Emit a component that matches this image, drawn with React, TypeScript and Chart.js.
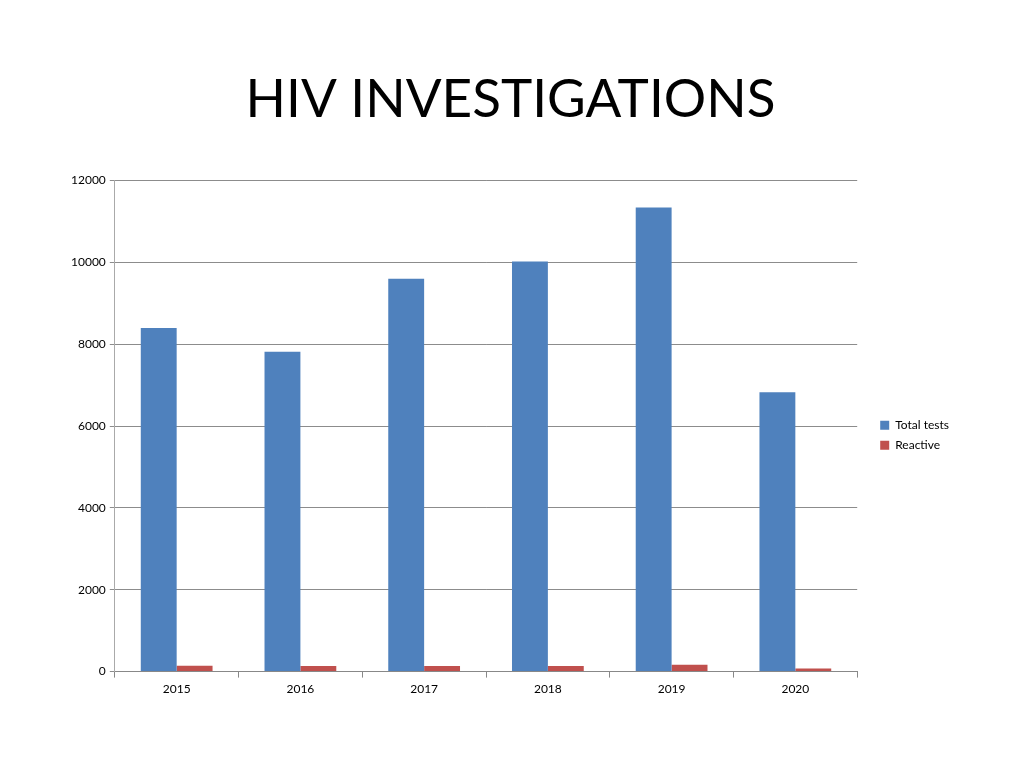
import React, { useEffect, useRef } from "react";
import { Chart, registerables, Plugin } from "chart.js";

Chart.register(...registerables);

const years = ["2015", "2016", "2017", "2018", "2019", "2020"];
const totalTests = [8400, 7820, 9600, 10020, 11340, 6830];
const reactive = [140, 135, 135, 135, 165, 75];
const yTicks = [0, 2000, 4000, 6000, 8000, 10000, 12000];

const FONT = "Lato, 'Open Sans', sans-serif";

// nudge legend and title so they sit where they are on the original slide
const boxShift: Plugin<"bar"> = {
  id: "boxShift",
  afterLayout(chart) {
    const lg = chart.legend;
    if (lg) {
      lg.left += 15;
      lg.right += 15;
    }
    const tb = (chart as any).titleBlock;
    if (tb) {
      tb.left += 5;
      tb.right += 5;
    }
  },
};

const App: React.FC = () => {
  const canvasRef = useRef<HTMLCanvasElement | null>(null);
  const chartRef = useRef<Chart | null>(null);

  useEffect(() => {
    document.body.style.margin = "0";
    if (!canvasRef.current) return;
    const ctx = canvasRef.current.getContext("2d");
    if (!ctx) return;

    if (chartRef.current) chartRef.current.destroy();

    chartRef.current = new Chart(ctx, {
      type: "bar",
      data: {
        labels: years,
        datasets: [
          {
            label: "Total tests",
            data: totalTests,
            backgroundColor: "#4F81BD",
            borderWidth: 0,
            barPercentage: 1,
            categoryPercentage: 0.58,
          },
          {
            label: "Reactive",
            data: reactive,
            backgroundColor: "#C0504D",
            borderWidth: 0,
            barPercentage: 1,
            categoryPercentage: 0.58,
          },
        ],
      },
      plugins: [boxShift],
      options: {
        animation: false,
        responsive: false,
        layout: { padding: { left: 67, right: 80, bottom: 68, top: 0 } },
        plugins: {
          title: {
            display: true,
            text: "HIV INVESTIGATIONS",
            color: "#000",
            font: { family: FONT, size: 53, weight: "normal" },
            padding: { top: 68, bottom: 49 },
          },
          legend: {
            position: "right",
            fullSize: false,
            title: { display: true, text: "", padding: { top: 0, bottom: 4 }, font: { size: 12 } },
            labels: {
              boxWidth: 9,
              boxHeight: 9,
              color: "#000",
              padding: 8,
              font: { family: FONT, size: 12 },
            },
          },
          tooltip: { enabled: false },
        },
        scales: {
          x: {
            grid: {
              display: true,
              drawOnChartArea: false,
              color: "#888",
              tickLength: 6,
              offset: true,
            },
            border: { color: "#888" },
            ticks: {
              color: "#000",
              padding: 4,
              font: { family: FONT, size: 12 },
            },
          },
          y: {
            min: 0,
            max: 12000,
            afterBuildTicks: (axis) => {
              axis.ticks = yTicks.map((v) => ({ value: v }));
            },
            grid: { color: "#8c8c8c", tickLength: 5 },
            border: { color: "#aaa" },
            ticks: {
              color: "#000",
              padding: 4,
              font: { family: FONT, size: 12 },
              callback: (v) => String(v),
            },
          },
        },
      },
    });

    return () => {
      if (chartRef.current) {
        chartRef.current.destroy();
        chartRef.current = null;
      }
    };
  }, []);

  return (
    <div style={{ width: 1024, height: 768, background: "#fff" }}>
      <canvas ref={canvasRef} width={1024} height={768} />
    </div>
  );
};

export default App;
